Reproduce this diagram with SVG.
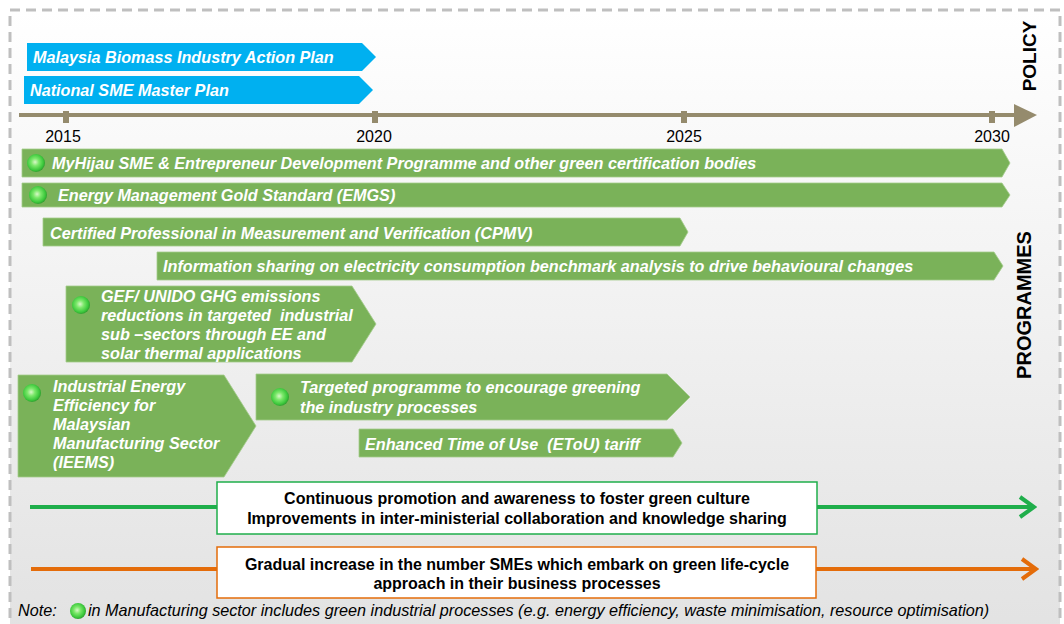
<svg xmlns="http://www.w3.org/2000/svg" width="1064" height="624" viewBox="0 0 1064 624">
<defs>
<linearGradient id="bg" x1="0" y1="0" x2="0" y2="1">
<stop offset="0" stop-color="#ffffff"/>
<stop offset="1" stop-color="#e2e2e2"/>
</linearGradient>
<radialGradient id="ball" cx="0.45" cy="0.45" r="0.6">
<stop offset="0" stop-color="#d9f7c8"/>
<stop offset="0.35" stop-color="#7be86a"/>
<stop offset="0.75" stop-color="#3cc83c"/>
<stop offset="1" stop-color="#2a8f2a"/>
</radialGradient>
<marker id="gArrow" markerUnits="userSpaceOnUse" markerWidth="20" markerHeight="24" refX="17" refY="12" orient="auto">
<path d="M3,2 L17,12 L3,22" fill="none" stroke="#1fae4b" stroke-width="4"/>
</marker>
<marker id="oArrow" markerUnits="userSpaceOnUse" markerWidth="20" markerHeight="24" refX="17" refY="12" orient="auto">
<path d="M3,2 L17,12 L3,22" fill="none" stroke="#e46c0a" stroke-width="4"/>
</marker>
</defs>
<style>
.blue{fill:#00b0f0}
.bar{fill:#7ab259;stroke:#a3cc8c;stroke-width:0.8}
.bt{font-family:"Liberation Sans",Arial,sans-serif;font-weight:bold;font-style:italic;font-size:16.2px;fill:#ffffff;white-space:pre}
.yr{font-family:"Liberation Sans",Arial,sans-serif;font-size:16px;fill:#000000;text-anchor:middle}
.side{font-family:"Liberation Sans",Arial,sans-serif;font-weight:bold;fill:#000000;text-anchor:middle}
.box{fill:#ffffff;stroke-width:1.5}
.bx{font-family:"Liberation Sans",Arial,sans-serif;font-weight:bold;font-size:16px;fill:#000000;text-anchor:middle}
.note{font-family:"Liberation Sans",Arial,sans-serif;font-style:italic;font-size:16.2px;fill:#000000}
.tick{fill:#958b6d}
</style>
<rect x="0" y="0" width="1064" height="624" fill="#ffffff"/>
<rect x="10" y="10" width="1050" height="630" fill="url(#bg)" stroke="#bfbfbf" stroke-width="3" stroke-dasharray="10,6"/>

<g id="policy-label"><text class="side" font-size="19" transform="translate(1036,56) rotate(-90)">POLICY</text></g>
<g id="programmes-label"><text class="side" font-size="20" transform="translate(1031,305) rotate(-90)">PROGRAMMES</text></g>

<g id="timeline">
<line x1="19" y1="115" x2="1016" y2="115" stroke="#958b6d" stroke-width="4"/>
<path d="M1014,104 L1037,115 L1014,127 Z" fill="#958b6d"/>
<rect class="tick" x="63" y="111" width="6" height="12"/>
<rect class="tick" x="372" y="111" width="6" height="12"/>
<rect class="tick" x="681" y="111" width="6" height="12"/>
<rect class="tick" x="989" y="111" width="6" height="12"/>
<text class="yr" x="63" y="142">2015</text>
<text class="yr" x="374" y="142">2020</text>
<text class="yr" x="684" y="142">2025</text>
<text class="yr" x="992" y="142">2030</text>
</g>

<g id="biomass-plan">
<path class="blue" d="M27,43 H362 L376,57 L362,71 H27 Z"/>
<text class="bt" x="33" y="63">Malaysia Biomass Industry Action Plan</text>
</g>
<g id="sme-master-plan">
<path class="blue" d="M24,76 H359 L373,90 L359,104 H24 Z"/>
<text class="bt" x="30" y="96">National SME Master Plan</text>
</g>

<g id="myhijau">
<path class="bar" d="M22,149 H1002 L1010,163 L1002,177 H22 Z"/>
<circle cx="36" cy="163" r="9" fill="url(#ball)"/>
<text class="bt" x="52" y="169">MyHijau SME &amp; Entrepreneur Development Programme and other green certification bodies</text>
</g>
<g id="emgs">
<path class="bar" d="M22,183 H1002 L1010,195 L1002,207 H22 Z"/>
<circle cx="38" cy="195" r="9" fill="url(#ball)"/>
<text class="bt" x="58" y="201">Energy Management Gold Standard (EMGS)</text>
</g>
<g id="cpmv">
<path class="bar" d="M43,218 H680 L688,232 L680,246 H43 Z"/>
<text class="bt" x="50" y="239">Certified Professional in Measurement and Verification (CPMV)</text>
</g>
<g id="info-sharing">
<path class="bar" d="M157,252 H994 L1003,266 L994,280 H157 Z"/>
<text class="bt" x="163" y="272">Information sharing on electricity consumption benchmark analysis to drive behavioural changes</text>
</g>
<g id="gef-unido">
<path class="bar" d="M66,286 H352 L376,324 L352,362 H66 Z"/>
<circle cx="81" cy="305" r="9" fill="url(#ball)"/>
<text class="bt" x="101" y="302">GEF/ UNIDO GHG emissions</text>
<text class="bt" x="101" y="321" xml:space="preserve">reductions in targeted  industrial</text>
<text class="bt" x="101" y="340">sub –sectors through EE and</text>
<text class="bt" x="101" y="359">solar thermal applications</text>
</g>
<g id="ieems">
<path class="bar" d="M18,375 H224 L256,426 L224,477 H18 Z"/>
<circle cx="32" cy="393" r="9" fill="url(#ball)"/>
<text class="bt" x="53" y="392">Industrial Energy</text>
<text class="bt" x="53" y="411">Efficiency for</text>
<text class="bt" x="53" y="430">Malaysian</text>
<text class="bt" x="53" y="449">Manufacturing Sector</text>
<text class="bt" x="53" y="468">(IEEMS)</text>
</g>
<g id="targeted-programme">
<path class="bar" d="M256,374 H667 L690,397 L667,420 H256 Z"/>
<circle cx="280" cy="397" r="9" fill="url(#ball)"/>
<text class="bt" x="300" y="393">Targeted programme to encourage greening</text>
<text class="bt" x="300" y="413">the industry processes</text>
</g>
<g id="etou">
<path class="bar" d="M359,429 H673 L682,443 L673,457 H359 Z"/>
<text class="bt" x="365" y="450" xml:space="preserve">Enhanced Time of Use  (EToU) tariff</text>
</g>

<g id="connectors">
<line x1="30" y1="507" x2="1034" y2="507" stroke="#1fae4b" stroke-width="4" marker-end="url(#gArrow)"/>
<line x1="31" y1="569" x2="1036" y2="569" stroke="#e46c0a" stroke-width="4" marker-end="url(#oArrow)"/>
</g>

<g id="green-culture">
<rect class="box" x="217" y="482" width="600" height="52" stroke="#1fae4b"/>
<text class="bx" x="517" y="504">Continuous promotion and awareness to foster green culture</text>
<text class="bx" x="517" y="524">Improvements in inter-ministerial collaboration and knowledge sharing</text>
</g>
<g id="life-cycle">
<rect class="box" x="217" y="547" width="599" height="51" stroke="#e46c0a"/>
<text class="bx" x="517" y="570">Gradual increase in the number SMEs which embark on green life-cycle</text>
<text class="bx" x="517" y="589">approach in their business processes</text>
</g>

<g id="note">
<text class="note" x="18" y="616">Note:</text>
<circle cx="78" cy="611" r="8" fill="url(#ball)"/>
<text class="note" x="88" y="616">in Manufacturing sector includes green industrial processes (e.g. energy efficiency, waste minimisation, resource optimisation)</text>
</g>
</svg>
